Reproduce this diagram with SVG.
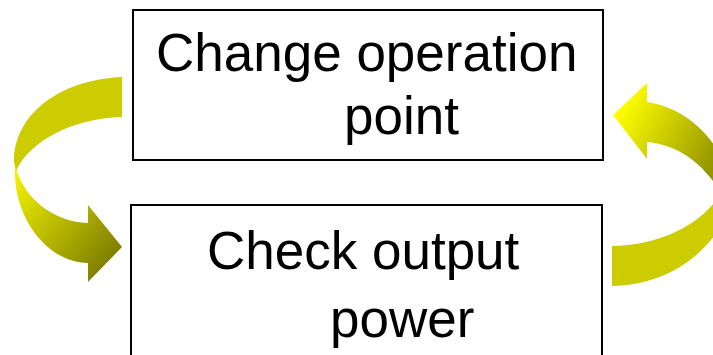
<svg xmlns="http://www.w3.org/2000/svg" width="713" height="355" viewBox="0 0 713 355">
<defs>
<style>
.box{fill:#fff;stroke:#000;stroke-width:2}
.lbl{font-family:"Liberation Sans",Arial,sans-serif;font-size:53px;fill:#000}
.solid{fill:#CCCC00}
</style>
<linearGradient id="gL" gradientUnits="userSpaceOnUse" x1="15" y1="175" x2="120" y2="262">
<stop offset="0" stop-color="#F2F200"/>
<stop offset="1" stop-color="#787800"/>
</linearGradient>
<linearGradient id="gR" gradientUnits="userSpaceOnUse" x1="618" y1="112" x2="713" y2="165">
<stop offset="0" stop-color="#FFFF00"/>
<stop offset="1" stop-color="#959500"/>
</linearGradient>
</defs>
<rect width="713" height="355" fill="#fff"/>
<g id="connectors">
<path class="solid" d="M122,77 C58,80 14,115 14,162 L16,171 C30,140 75,118 122,117 Z"/>
<path fill="url(#gL)" d="M15,168 C13,215 45,262 88,263 L88,282 L122,247 L88,205 L88,223 C55,222 25,200 16,168 Z"/>
<path fill="url(#gR)" d="M613,115 L647,83 L647,102 C675,106 708,125 725,165 L722,195 C705,165 680,145 647,142 L647,159 Z"/>
<path class="solid" d="M612,246 C660,245 700,225 720,195 L730,210 C705,262 660,285 612,286 Z"/>
</g>
<g id="node1">
<rect class="box" x="133" y="10" width="470" height="150"/>
<text class="lbl" x="156" y="71">Change operation</text>
<text class="lbl" x="344" y="134">point</text>
</g>
<g id="node2">
<rect class="box" x="131" y="205" width="471" height="160"/>
<text class="lbl" x="207" y="269">Check output</text>
<text class="lbl" x="330" y="337">power</text>
</g>
</svg>
